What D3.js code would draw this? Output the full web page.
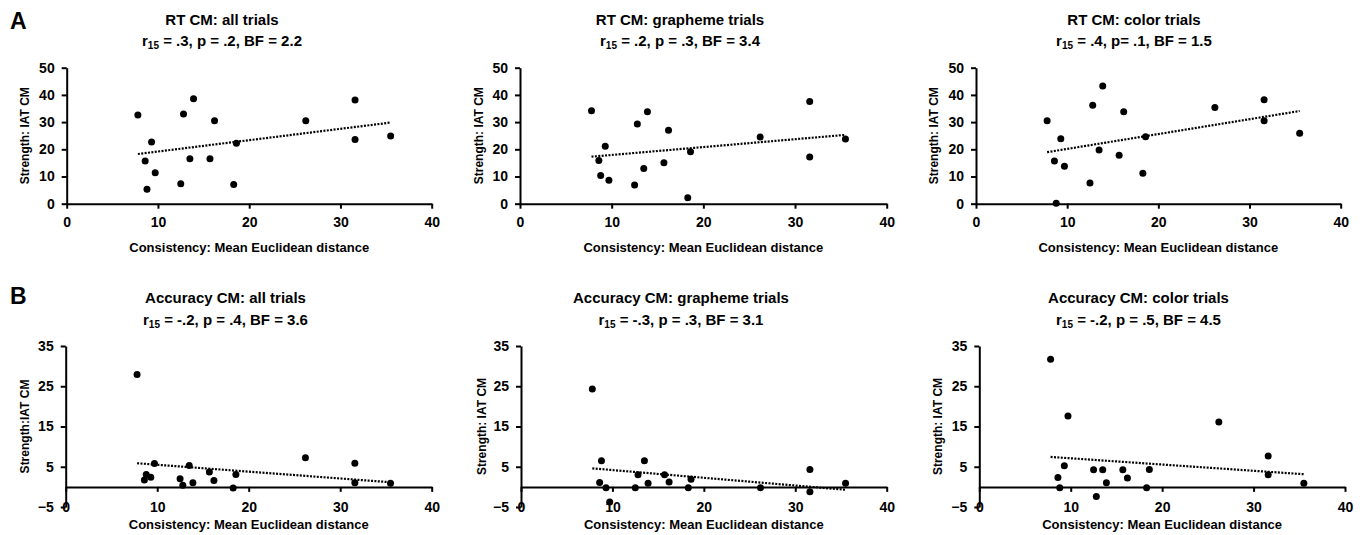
<!DOCTYPE html>
<html>
<head>
<meta charset="utf-8">
<script src="https://cdn.jsdelivr.net/npm/d3@7/dist/d3.min.js"></script>
<style>
  body { margin: 0; background: #fff; }
  text { font-family: "Liberation Sans", Arial, sans-serif; font-weight: bold; fill: #000; }
</style>
</head>
<body>
<svg id="chart" width="1366" height="535"></svg>
<script>
// ---------- DATA ----------
// Consistency (mean Euclidean distance), one value per participant
const consistency = [7.8, 8.6, 8.8, 9.3, 9.7, 12.5, 12.8, 13.5, 13.9, 15.7, 16.2, 18.3, 18.6, 26.2, 31.6, 31.6, 35.5];

// Strength: IAT CM, per panel, same participant order
const rtAll       = [32.6, 15.7, 5.3, 22.7, 11.4, 7.3, 33.0, 16.5, 38.6, 16.5, 30.5, 7.1, 22.2, 30.5, 38.1, 23.6, 24.9];
const rtGrapheme  = [34.2, 15.9, 10.4, 21.1, 8.6, 6.9, 29.3, 12.9, 33.8, 15.1, 27.0, 2.2, 19.1, 24.5, 37.6, 17.2, 23.8];
const rtColor     = [30.5, 15.7, 0.2, 23.9, 13.8, 7.6, 36.2, 19.7, 43.3, 17.8, 33.8, 11.2, 24.6, 35.4, 38.2, 30.5, 25.9];
const accAll      = [27.9, 1.7, 3.1, 2.4, 5.8, 2.0, 0.4, 5.3, 1.0, 3.7, 1.6, -0.25, 3.1, 7.25, 5.9, 1.0, 0.9];
const accGrapheme = [24.3, 1.1, 6.5, -0.2, -3.75, -0.2, 3.0, 6.5, 0.9, 3.0, 1.2, -0.2, 1.9, -0.2, 4.3, -1.2, 0.9];
const accColor    = [31.7, 2.3, -0.2, 5.25, 17.6, 4.25, -2.4, 4.25, 1.0, 4.25, 2.2, -0.2, 4.3, 16.1, 7.7, 3.0, 0.9];

const panelTitles = ["RT CM: all trials", "RT CM: grapheme trials", "RT CM: color trials",
                     "Accuracy CM: all trials", "Accuracy CM: grapheme trials", "Accuracy CM: color trials"];
const statSub  = "15";
const statRest = [" = .3, p = .2, BF = 2.2", " = .2, p = .3, BF = 3.4", " = .4, p= .1, BF = 1.5",
                  " = -.2, p = .4, BF = 3.6", " = -.3, p = .3, BF = 3.1", " = -.2, p = .5, BF = 4.5"];
const yTitles = ["Strength: IAT CM", "Strength: IAT CM", "Strength: IAT CM",
                 "Strength:IAT CM", "Strength: IAT CM", "Strength: IAT CM"];
const xTitle = "Consistency: Mean Euclidean distance";
const xTicks = [0, 10, 20, 30, 40];
const yTicksRT = [0, 10, 20, 30, 40, 50];
const yTicksAcc = [-5, 5, 15, 25, 35];
const rowLetters = ["A", "B"];

const series = [rtAll, rtGrapheme, rtColor, accAll, accGrapheme, accColor];

// ---------- LAYOUT ----------
const rows = [
  { yTop: 67.7, yBot: 203.7, domain: [0, 50], ticks: yTicksRT, titleY: 25, subY: 45.5, xTickY: 227, xTitleY: 251.5, letterY: 29 },
  { yTop: 346, yBot: 507, domain: [-5, 35], ticks: yTicksAcc, titleY: 303, subY: 324.5, xTickY: 512, xTitleY: 528.5, letterY: 304 }
];
const cols = [
  [ { x0: 66.7, x1: 431.7, tx: 222, ytx: 29 },   { x0: 520, x1: 886.7, tx: 680, ytx: 483 },  { x0: 976, x1: 1340.7, tx: 1134, ytx: 938 } ],
  [ { x0: 65.7, x1: 431.7, tx: 225.5, ytx: 28.5 }, { x0: 521, x1: 886.7, tx: 681, ytx: 486 }, { x0: 979.3, x1: 1345, tx: 1138.5, ytx: 941.5 } ]
];

const svg = d3.select("#chart");

rowLetters.forEach((L, r) => {
  svg.append("text").attr("x", 10).attr("y", rows[r].letterY)
    .style("font-size", "23px").text(L);
});

function regression(xs, ys) {
  const mx = d3.mean(xs), my = d3.mean(ys);
  let sxy = 0, sxx = 0;
  xs.forEach((x, i) => { sxy += (x - mx) * (ys[i] - my); sxx += (x - mx) * (x - mx); });
  const b = sxy / sxx;
  return { a: my - b * mx, b };
}

for (let r = 0; r < 2; r++) {
  for (let c = 0; c < 3; c++) {
    const idx = r * 3 + c;
    const R = rows[r], C = cols[r][c];
    const ys = series[idx];
    const x = d3.scaleLinear().domain([0, 40]).range([C.x0, C.x1]);
    const y = d3.scaleLinear().domain(R.domain).range([R.yBot, R.yTop]);
    const g = svg.append("g");

    // Title + subtitle
    g.append("text").attr("x", C.tx).attr("y", R.titleY).attr("text-anchor", "middle")
      .style("font-size", "15px").text(panelTitles[idx]);
    const st = g.append("text").attr("x", C.tx).attr("y", R.subY).attr("text-anchor", "middle")
      .style("font-size", "15px");
    st.append("tspan").text("r");
    st.append("tspan").attr("dy", 3).style("font-size", "10px").text(statSub);
    st.append("tspan").attr("dy", -3).text(statRest[idx]);

    // Y axis
    const yAxis = d3.axisLeft(y).tickValues(R.ticks).tickSize(5).tickSizeOuter(0).tickPadding(7)
      .tickFormat(d3.format("d"));
    const ga = g.append("g").attr("transform", `translate(${C.x0},0)`).call(yAxis);
    ga.selectAll("path.domain").attr("stroke", "#000").attr("stroke-width", 2);
    ga.selectAll(".tick line").attr("stroke", "#000").attr("stroke-width", 2);
    ga.selectAll(".tick text").style("font-size", "14px").style("font-family", "'Liberation Sans', Arial, sans-serif")
      .style("font-weight", "bold").attr("fill", "#000");

    // X axis at y = 0
    const y0 = y(0);
    const xAxis = d3.axisBottom(x).tickValues(xTicks).tickSize(5).tickSizeOuter(0).tickFormat(d3.format("d"));
    const gx = g.append("g").attr("transform", `translate(0,${y0})`).call(xAxis);
    gx.selectAll("path.domain").attr("stroke", "#000").attr("stroke-width", 2);
    gx.selectAll(".tick line").attr("stroke", "#000").attr("stroke-width", 2);
    gx.selectAll(".tick text").attr("y", R.xTickY - y0).attr("dy", 0)
      .style("font-size", "14px").style("font-family", "'Liberation Sans', Arial, sans-serif")
      .style("font-weight", "bold").attr("fill", "#000");

    // Axis titles
    g.append("text").attr("x", (C.x0 + C.x1) / 2).attr("y", R.xTitleY).attr("text-anchor", "middle")
      .style("font-size", "13px").text(xTitle);
    const yc = (R.yTop + R.yBot) / 2;
    g.append("text").attr("transform", `translate(${C.ytx},${yc}) rotate(-90)`).attr("text-anchor", "middle")
      .style("font-size", "12px").text(yTitles[idx]);

    // Trendline (linear fit)
    const fit = regression(consistency, ys);
    const [xmin, xmax] = d3.extent(consistency);
    g.append("line")
      .attr("x1", x(xmin)).attr("y1", y(fit.a + fit.b * xmin))
      .attr("x2", x(xmax)).attr("y2", y(fit.a + fit.b * xmax))
      .attr("stroke", "#000").attr("stroke-width", 2.2).attr("stroke-dasharray", "2,1.4");

    // Points
    g.selectAll("circle").data(consistency.map((d, i) => [d, ys[i]])).join("circle")
      .attr("cx", d => x(d[0])).attr("cy", d => y(d[1])).attr("r", 3.5).attr("fill", "#000");
  }
}
</script>
</body>
</html>
